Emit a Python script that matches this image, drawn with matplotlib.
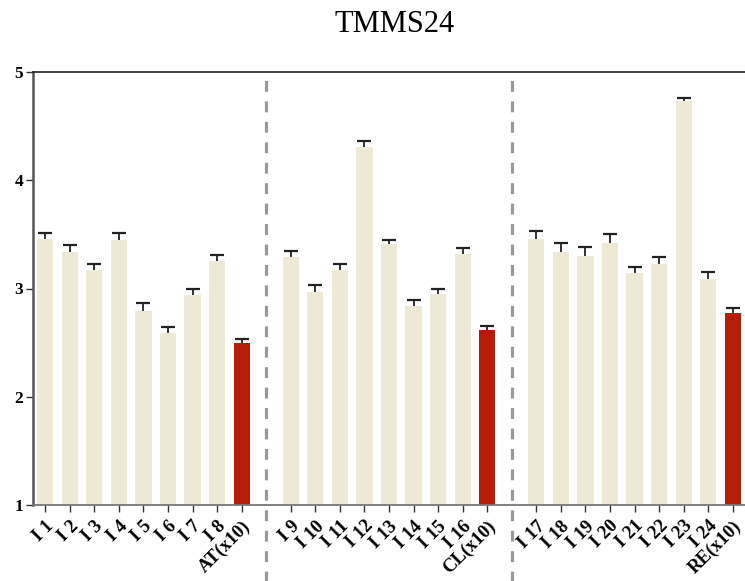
import numpy as np
import matplotlib
matplotlib.use("Agg")
import matplotlib.pyplot as plt

labels = ["I 1", "I 2", "I 3", "I 4", "I 5", "I 6", "I 7", "I 8", "AT(x10)",
          "I 9", "I 10", "I 11", "I 12", "I 13", "I 14", "I 15", "I 16", "CL(x10)",
          "I 17", "I 18", "I 19", "I 20", "I 21", "I 22", "I 23", "I 24", "RE(x10)"]
values = [3.46, 3.34, 3.17, 3.45, 2.79, 2.59, 2.94, 3.25, 2.50,
          3.29, 2.97, 3.17, 4.31, 3.41, 2.84, 2.95, 3.32, 2.62,
          3.46, 3.34, 3.30, 3.42, 3.14, 3.23, 4.73, 3.09, 2.77]
errors = [0.055, 0.065, 0.055, 0.06, 0.08, 0.05, 0.06, 0.055, 0.032,
          0.058, 0.058, 0.055, 0.05, 0.042, 0.052, 0.05, 0.052, 0.035,
          0.074, 0.083, 0.087, 0.083, 0.058, 0.065, 0.031, 0.065, 0.046]
summary = ["AT(x10)", "CL(x10)", "RE(x10)"]

# three groups of nine bars, an empty slot between groups for the dashed divider
positions = [i + i // 9 for i in range(len(labels))]
dividers = [9, 19]
colors = ["#B71C06" if lab in summary else "#EEE9D4" for lab in labels]

plt.rcParams['font.family'] = ['Liberation Serif', 'DejaVu Serif']

fig = plt.figure(figsize=(7.45, 5.81), dpi=100)
ax = fig.add_axes([33 / 745, 76 / 581, 712 / 745, 433 / 581])

ax.bar(positions, values, width=0.66, bottom=0, color=colors, zorder=2)
# upper error bars only: stem plus a single cap
tops = np.array(values) + np.array(errors)
ax.vlines(positions, values, tops, color="#222222", lw=1.3, zorder=3)
ax.plot(positions, tops, ls="none", marker="_", ms=10, mew=1.6,
        color="#222222", zorder=3)

for d in dividers:
    ax.axvline(d, ymin=-0.18, ymax=0.997, color="#999999", lw=2.3,
               linestyle=(0, (3.4, 3.0)), clip_on=False, zorder=1)

ax.set_xlim(-0.5, 28.5)
ax.set_ylim(1, 5)
ax.set_yticks([1, 2, 3, 4, 5])
ax.set_xticks(positions)
ax.set_xticklabels(labels, rotation=45, ha="right", rotation_mode="anchor",
                   fontsize=13.5, fontweight="bold")
for t in ax.get_yticklabels():
    t.set_fontweight("bold")
    t.set_fontsize(12.5)

ax.tick_params(axis="x", length=5, width=1, color="#333333", pad=4)
ax.tick_params(axis="y", length=5, width=1, color="#333333", pad=2)

ax.spines["right"].set_visible(False)
ax.spines["top"].set_color("#222222")
ax.spines["top"].set_linewidth(1.2)
ax.spines["left"].set_color("#555555")
ax.spines["left"].set_linewidth(1.8)
ax.spines["bottom"].set_color("#777777")
ax.spines["bottom"].set_linewidth(1.3)

fig.text(395 / 745, 1 - 24 / 581, "TMMS24", ha="center", va="center", fontsize=22)

fig.savefig("out.png", dpi=100)
